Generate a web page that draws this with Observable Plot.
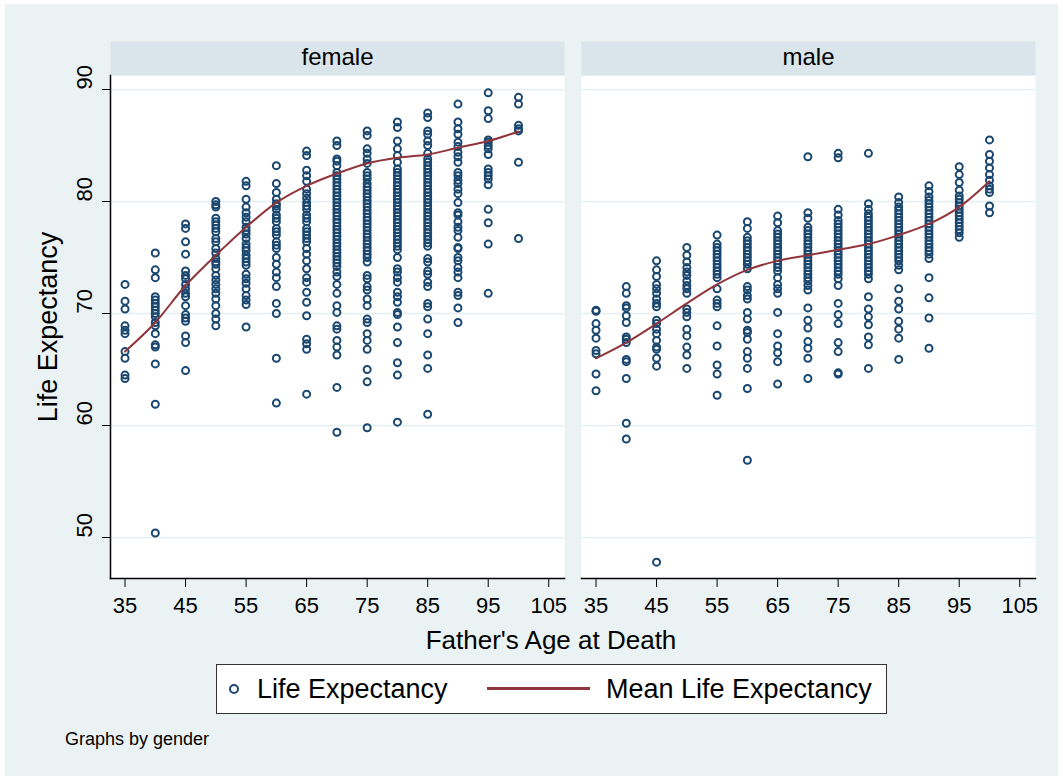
<!DOCTYPE html>
<html>
<head>
<meta charset="utf-8">
<script src="https://cdn.jsdelivr.net/npm/d3@7"></script>
<script src="https://cdn.jsdelivr.net/npm/@observablehq/plot@0.6"></script>
<style>
  body { margin: 0; background: #fff; font-family: "Liberation Sans", Arial, sans-serif; }
  #wrap { position: relative; width: 1063px; height: 780px; overflow: hidden; background: #fff; }
  #bg { position: absolute; left: 5px; top: 4px; width: 1053px; height: 772px; background: #eaf2f3; }
  #chart { position: absolute; left: 0; top: 0; }
  #legend { position: absolute; left: 216px; top: 664px; width: 671px; height: 50px; box-sizing: border-box;
            border: 1.5px solid #333; background: #fff; }
  .ltxt { position: absolute; top: 0; line-height: 48px; font-size: 27px; color: #000; white-space: nowrap; }
  .lcirc { position: absolute; left: 12px; top: 19px; width: 6px; height: 6px; border: 2px solid #1a476f; border-radius: 50%; }
  .lline { position: absolute; left: 270px; top: 22px; width: 103px; height: 3px; background: #90353b; }
  #caption { position: absolute; left: 65px; top: 730px; font-size: 18px; line-height: 18px; color: #000; white-space: nowrap; }
</style>
</head>
<body>
<div id="wrap">
  <div id="bg"></div>
  <div id="chart"></div>
  <div id="legend">
    <div class="lcirc"></div>
    <div class="ltxt" style="left:40px">Life Expectancy</div>
    <div class="lline"></div>
    <div class="ltxt" style="left:389px">Mean Life Expectancy</div>
  </div>
  <div id="caption">Graphs by gender</div>
</div>
<script>
// Father's age at death (x categories)
const ages = [35, 40, 45, 50, 55, 60, 65, 70, 75, 80, 85, 90, 95, 100];
const genders = ["female", "male"];
const xTicks = [35, 45, 55, 65, 75, 85, 95, 105];
const yTicks = [50, 60, 70, 80, 90];

// Female: life expectancy observations per father's age
const f35 = [72.6, 71.1, 70.4, 68.9, 68.5, 68.2, 66.6, 66.0, 64.5, 64.2];
const f40 = [75.4, 73.9, 73.2, 71.5, 71.2, 70.9, 70.6, 70.3, 70.0, 69.7, 69.2, 68.9, 68.2, 67.2, 67.0, 65.5, 61.9, 50.4];
const f45 = [78.0, 77.6, 76.4, 75.3, 73.8, 73.4, 73.1, 72.6, 72.2, 71.8, 71.5, 70.7, 69.9, 69.6, 69.3, 68.0, 67.4, 64.9];
const f50 = [80.0, 79.7, 79.5, 78.5, 78.2, 77.9, 77.6, 77.3, 76.7, 76.4, 75.8, 75.4, 74.9, 74.6, 74.4, 74.0, 73.4, 73.0, 72.6, 72.2, 71.8, 71.3, 70.7, 70.0, 69.5, 68.9];
const f55 = [81.8, 81.4, 80.2, 79.5, 79.0, 78.6, 78.2, 77.7, 77.4, 77.1, 76.7, 76.2, 75.9, 75.6, 75.2, 74.9, 74.6, 74.3, 73.5, 73.1, 72.7, 72.2, 71.6, 71.2, 70.8, 68.8];
const f60 = [83.2, 81.6, 80.8, 80.2, 79.8, 79.6, 79.3, 78.8, 78.5, 78.2, 77.6, 77.3, 77.0, 76.4, 76.1, 75.8, 75.0, 74.4, 73.7, 73.2, 72.4, 70.9, 70.0, 66.0, 62.0];
const f65 = [84.5, 84.1, 82.8, 82.3, 81.8, 81.1, 80.7, 80.3, 79.9, 79.6, 79.3, 78.8, 78.5, 78.2, 77.6, 77.3, 77.0, 76.7, 76.4, 75.8, 75.3, 74.7, 74.0, 73.2, 72.8, 71.9, 71.0, 69.8, 67.7, 67.3, 66.8, 62.8];
const f70 = [85.4, 85.0, 83.8, 83.6, 83.2, 82.6, 82.3, 82.0, 81.7, 81.4, 81.1, 80.8, 80.5, 80.2, 79.9, 79.6, 79.3, 79.0, 78.7, 78.4, 78.1, 77.8, 77.5, 77.2, 76.9, 76.6, 76.3, 76.0, 75.7, 75.4, 75.1, 74.8, 74.5, 74.2, 73.7, 73.3, 72.6, 71.8, 70.7, 70.1, 68.9, 68.6, 67.6, 67.0, 66.3, 63.4, 59.4];
const f75 = [86.3, 85.9, 84.7, 84.3, 83.8, 83.4, 82.6, 82.3, 82.0, 81.6, 81.3, 81.0, 80.7, 80.4, 80.1, 79.8, 79.5, 79.2, 78.9, 78.6, 78.3, 78.0, 77.7, 77.4, 77.1, 76.8, 76.5, 76.2, 75.9, 75.6, 75.3, 75.0, 74.6, 73.4, 73.1, 72.4, 72.1, 71.3, 70.7, 69.5, 69.2, 68.2, 67.6, 66.8, 65.0, 63.9, 59.8];
const f80 = [87.1, 86.6, 85.4, 84.7, 84.1, 83.5, 82.9, 82.6, 82.3, 82.0, 81.7, 81.4, 81.1, 80.8, 80.5, 80.2, 79.9, 79.6, 79.3, 79.0, 78.7, 78.4, 78.1, 77.8, 77.5, 77.2, 76.9, 76.6, 76.3, 76.0, 75.7, 75.0, 74.0, 73.7, 73.2, 72.8, 71.9, 71.5, 71.0, 70.1, 69.9, 68.8, 67.4, 65.6, 64.5, 60.3];
const f85 = [87.9, 87.5, 86.3, 86.0, 85.4, 85.0, 84.3, 83.8, 83.5, 83.2, 82.9, 82.6, 82.3, 82.0, 81.7, 81.4, 81.1, 80.8, 80.5, 80.2, 79.9, 79.6, 79.3, 79.0, 78.7, 78.4, 78.1, 77.8, 77.5, 77.2, 76.9, 76.6, 76.3, 76.0, 74.9, 74.6, 73.8, 73.5, 72.8, 72.4, 70.9, 70.6, 69.5, 68.2, 66.3, 65.1, 61.0];
const f90 = [88.7, 87.1, 86.5, 86.0, 85.3, 84.9, 84.4, 84.0, 83.5, 82.6, 82.3, 81.9, 81.6, 81.1, 80.7, 79.9, 79.0, 78.8, 78.2, 77.7, 77.4, 76.8, 75.9, 75.8, 75.0, 74.7, 74.1, 73.7, 73.2, 71.9, 71.6, 70.5, 69.2];
const f95 = [89.7, 88.1, 87.4, 85.5, 85.3, 85.0, 84.7, 84.2, 82.9, 82.6, 82.3, 82.0, 81.5, 79.3, 78.1, 76.2, 71.8];
const f100 = [89.3, 88.7, 86.8, 86.5, 86.3, 83.5, 76.7];

// Male: life expectancy observations per father's age
const m35 = [70.3, 70.2, 69.1, 68.5, 67.8, 66.7, 66.4, 64.6, 63.1];
const m40 = [72.4, 71.8, 70.7, 70.5, 69.8, 69.2, 67.9, 67.7, 67.4, 65.9, 65.7, 64.2, 60.2, 58.8];
const m45 = [74.7, 73.9, 73.3, 72.6, 72.2, 71.8, 71.3, 70.9, 70.6, 69.4, 69.1, 68.6, 68.2, 67.6, 67.0, 66.8, 66.0, 65.3, 47.8];
const m50 = [75.9, 75.2, 74.6, 74.1, 73.7, 73.4, 72.9, 72.5, 72.2, 71.8, 70.4, 70.1, 69.7, 68.6, 68.0, 67.0, 66.3, 65.1];
const m55 = [77.0, 76.2, 75.9, 75.6, 75.3, 75.0, 74.7, 74.4, 74.1, 73.8, 73.5, 73.2, 72.2, 71.2, 70.9, 70.6, 68.9, 67.1, 65.4, 64.6, 62.7];
const m60 = [78.2, 77.6, 76.8, 76.5, 76.2, 75.9, 75.6, 75.3, 75.0, 74.7, 74.4, 74.0, 72.4, 72.1, 71.6, 71.3, 70.1, 69.5, 68.5, 68.3, 67.7, 66.6, 66.0, 65.1, 63.3, 56.9];
const m65 = [78.7, 78.1, 77.4, 77.1, 76.8, 76.5, 76.2, 75.9, 75.6, 75.3, 75.0, 74.7, 74.4, 74.1, 73.8, 73.2, 72.6, 72.2, 71.8, 70.1, 68.2, 67.1, 66.5, 65.7, 63.7];
const m70 = [84.0, 79.0, 78.5, 77.7, 77.4, 77.1, 76.8, 76.5, 76.2, 75.9, 75.6, 75.3, 75.0, 74.7, 74.4, 74.1, 73.8, 73.5, 73.2, 72.9, 72.5, 72.1, 70.5, 69.4, 68.7, 67.5, 66.9, 66.0, 64.2];
const m75 = [84.3, 83.9, 79.3, 78.8, 78.3, 78.0, 77.7, 77.4, 77.1, 76.8, 76.5, 76.2, 75.9, 75.6, 75.3, 75.0, 74.7, 74.4, 74.1, 73.8, 73.5, 73.1, 72.5, 70.9, 69.9, 69.1, 67.4, 66.6, 64.7, 64.6];
const m80 = [84.3, 79.8, 79.3, 78.9, 78.6, 78.3, 78.0, 77.7, 77.4, 77.1, 76.8, 76.5, 76.2, 75.9, 75.6, 75.3, 75.0, 74.7, 74.4, 74.1, 73.8, 73.5, 73.1, 71.5, 70.4, 69.7, 69.0, 67.9, 67.2, 65.1];
const m85 = [80.4, 79.9, 79.5, 79.2, 78.9, 78.6, 78.3, 78.0, 77.7, 77.4, 77.1, 76.8, 76.5, 76.2, 75.9, 75.6, 75.3, 75.0, 74.7, 74.3, 73.9, 72.2, 71.1, 70.4, 69.3, 68.6, 67.8, 65.9];
const m90 = [81.4, 80.9, 80.4, 80.1, 79.8, 79.5, 79.2, 78.9, 78.6, 78.3, 78.0, 77.7, 77.4, 77.1, 76.8, 76.5, 76.2, 75.9, 75.6, 75.3, 74.9, 73.2, 71.4, 69.6, 66.9];
const m95 = [83.1, 82.4, 81.7, 81.0, 80.5, 80.2, 79.9, 79.6, 79.3, 79.0, 78.7, 78.4, 78.1, 77.8, 77.5, 77.2, 76.8];
const m100 = [85.5, 84.2, 83.6, 83.0, 82.4, 81.9, 81.4, 81.1, 80.8, 79.6, 79.0];

// Mean life expectancy per father's age
const femaleMean = [66.6, 69.2, 72.5, 75.2, 77.7, 79.9, 81.4, 82.5, 83.4, 83.9, 84.2, 84.8, 85.4, 86.25];
const maleMean = [66.0, 67.4, 69.1, 70.9, 72.6, 73.9, 74.7, 75.2, 75.7, 76.2, 77.0, 78.0, 79.5, 81.8];

const femaleCols = [f35, f40, f45, f50, f55, f60, f65, f70, f75, f80, f85, f90, f95, f100];
const maleCols = [m35, m40, m45, m50, m55, m60, m65, m70, m75, m80, m85, m90, m95, m100];

const points = [];
ages.forEach((a, i) => {
  femaleCols[i].forEach(v => points.push({gender: "female", age: a, le: v}));
  maleCols[i].forEach(v => points.push({gender: "male", age: a, le: v}));
});
const means = [];
ages.forEach((a, i) => means.push({gender: "female", age: a, mean: femaleMean[i]}));
ages.forEach((a, i) => means.push({gender: "male", age: a, mean: maleMean[i]}));
const strips = genders.map(g => ({gender: g}));

const navy = "#1a476f";
const maroon = "#90353b";

const plot = Plot.plot({
  width: 1063,
  height: 780,
  marginTop: 75,
  marginBottom: 202,
  marginLeft: 110,
  marginRight: 28,
  style: {background: "transparent", fontFamily: "'Liberation Sans', Arial, sans-serif", fontSize: "22px", color: "#000", overflow: "visible"},
  fx: {axis: null, domain: genders, paddingInner: 0.0361, paddingOuter: 0},
  x: {domain: [32.6, 107.6]},
  y: {domain: [46.34, 91.25]},
  marks: [
    Plot.frame({fill: "#fff", stroke: null}),
    Plot.frame({fill: "#d9e5eb", stroke: null, insetTop: -34, insetBottom: 503}),
    Plot.gridY(yTicks, {stroke: "#e4eef1", strokeOpacity: 1, strokeWidth: 1.5}),
    Plot.dot(points, {x: "age", y: "le", fx: "gender", r: 3.5, stroke: navy, strokeWidth: 2, fill: "none"}),
    Plot.line(means, {x: "age", y: "mean", fx: "gender", stroke: maroon, strokeWidth: 2, curve: "catmull-rom"}),
    Plot.frame({anchor: "left", facetAnchor: "left", stroke: "#000", strokeWidth: 1.5}),
    Plot.frame({anchor: "bottom", stroke: "#000", strokeWidth: 1.5}),
    Plot.axisY({ticks: yTicks, tickSize: 8, tickFormat: () => "", label: null}),
    Plot.text(yTicks, {y: d => d, text: d => String(d), frameAnchor: "left", rotate: -90, dx: -26, fontSize: 22, fill: "#000", facetAnchor: "left"}),
    Plot.axisX({ticks: xTicks, tickSize: 9, tickPadding: 10, fontSize: 22, label: null}),
    Plot.text(strips, {fx: "gender", text: "gender", frameAnchor: "top", dy: -28, fontSize: 24, fill: "#000"})
  ]
});
document.getElementById("chart").appendChild(plot);

const svg = d3.select(plot);
svg.append("text")
  .attr("x", 551).attr("y", 649)
  .attr("text-anchor", "middle")
  .attr("font-size", 26)
  .attr("fill", "#000")
  .text("Father's Age at Death");
svg.append("text")
  .attr("transform", "translate(57,327) rotate(-90)")
  .attr("text-anchor", "middle")
  .attr("font-size", 27)
  .attr("fill", "#000")
  .text("Life Expectancy");
</script>
</body>
</html>
